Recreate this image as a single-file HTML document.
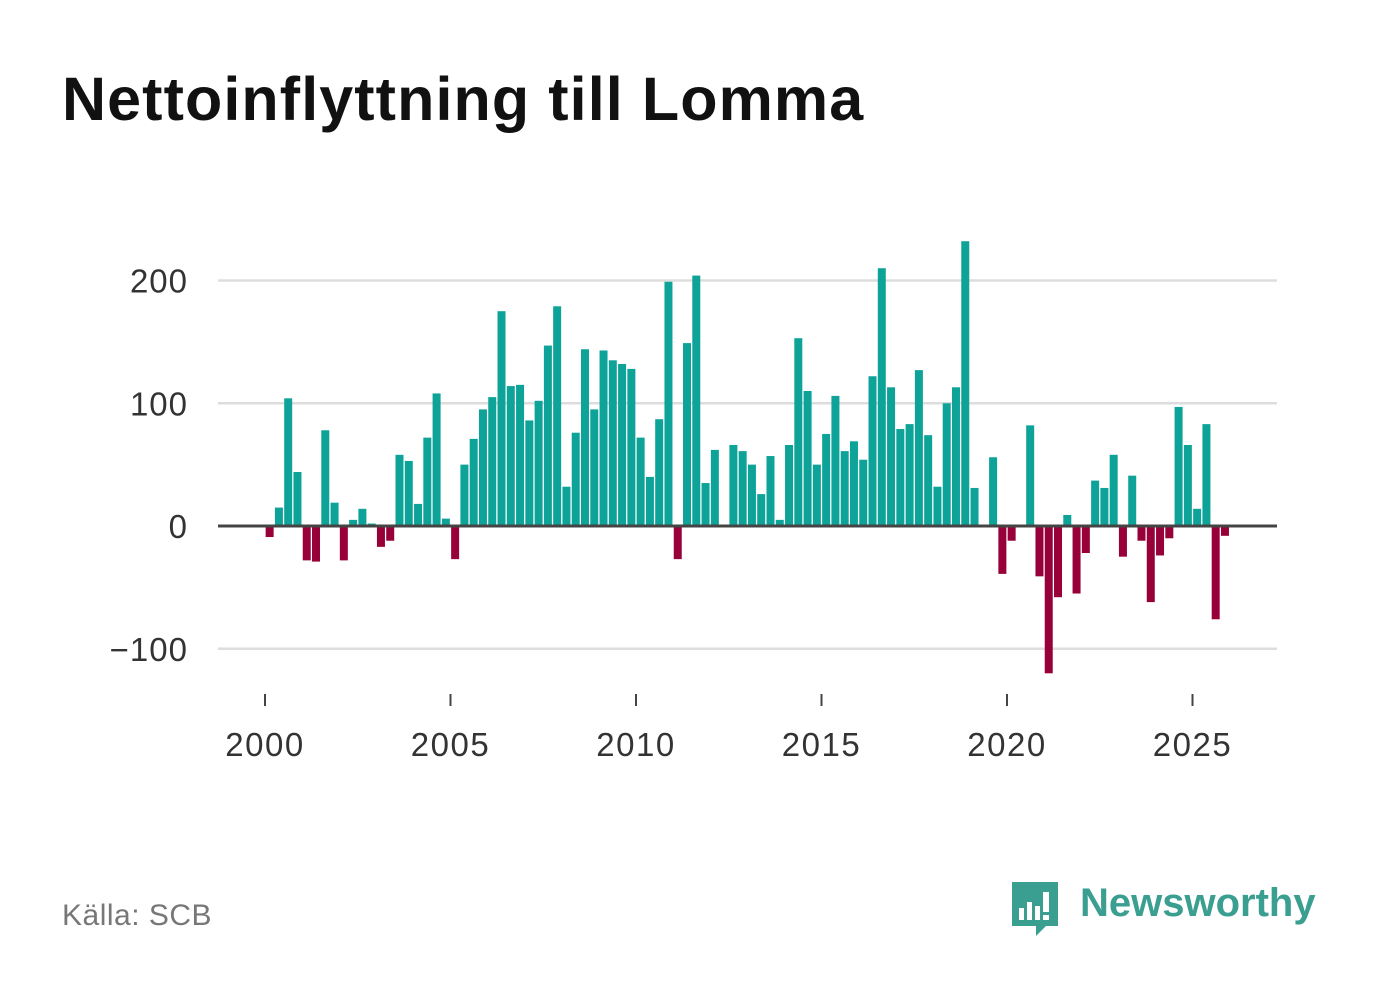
<!DOCTYPE html>
<html><head><meta charset="utf-8"><style>
body{margin:0;background:#fff;width:1382px;height:999px;overflow:hidden;font-family:"Liberation Sans",sans-serif;}
#title{position:absolute;left:62px;top:64px;font-size:61px;font-weight:bold;color:#111;letter-spacing:1.1px;line-height:70px;}
#src{position:absolute;left:62px;top:899px;font-size:30px;color:#777;letter-spacing:0.5px;}
#logo{position:absolute;left:1010px;top:878px;}
</style></head><body>
<div id="title">Nettoinflyttning till Lomma</div>
<svg id="chart" width="1382" height="999" style="position:absolute;left:0;top:0"></svg>
<div id="src">Källa: SCB</div>
<div id="logo">
<svg width="320" height="64">
<path d="M2 4h46v44h-12l-10 10l0-10h-24z" fill="#3a9e91"/>
<rect x="9" y="30" width="5" height="12" fill="#fff"/><rect x="17" y="24" width="5" height="18" fill="#fff"/><rect x="25" y="28" width="5" height="14" fill="#fff"/><rect x="33" y="14" width="6" height="20" fill="#fff"/><rect x="33" y="37" width="6" height="5" fill="#fff"/>
<text x="70" y="38" font-size="40" font-weight="bold" fill="#3a9e91" font-family="Liberation Sans, sans-serif">Newsworthy</text>
</svg></div>
<script>
const quarters = Array.from({length:104},(_,i)=>(2000+Math.floor(i/4))+'Q'+(i%4+1));
const values = [-9,15,104,44,-28,-29,78,19,-28,5,14,2,-17,-12,58,53,18,72,108,6,-27,50,71,95,105,175,114,115,86,102,147,179,32,76,144,95,143,135,132,128,72,40,87,199,-27,149,204,35,62,0,66,61,50,26,57,5,66,153,110,50,75,106,61,69,54,122,210,113,79,83,127,74,32,100,113,232,31,0,56,-39,-12,0,82,-41,-120,-58,9,-55,-22,37,31,58,-25,41,-12,-62,-24,-10,97,66,14,83,-76,-8];
const yTicks = [-100,0,100,200];
const yTickLabels = ['\u2212100','0','100','200'];
const xTicks = [2000,2005,2010,2015,2020,2025];
const NS='http://www.w3.org/2000/svg';
const svg=document.getElementById('chart');
const x0=218,x1=1277;
function yScale(v){return 526-v*1.2275;}
function xYear(y){return 265+(y-2000)*37.1;}
function xIdx(i){return xYear(2000+i/4)+4.64;}
function mk(t,a){const e=document.createElementNS(NS,t);for(const k in a)e.setAttribute(k,a[k]);svg.appendChild(e);return e;}
yTicks.forEach((v,i)=>{
  if(v!==0){const g=mk('line',{x1:x0,x2:x1,y1:yScale(v),y2:yScale(v),stroke:'#ddd','stroke-width':2.5});
  
  }
  const t=mk('text',{x:188,y:yScale(v)+12,'text-anchor':'end','font-size':33,fill:'#333','letter-spacing':1});
  t.textContent=yTickLabels[i];
  
  
});
values.forEach((v,i)=>{
  const y=yScale(Math.max(v,0)),h=Math.abs(yScale(v)-yScale(0));
  if(h<0.1)return;
  const r=mk('rect',{x:xIdx(i)-4,y:y,width:8,height:h,fill:v>=0?'#0ea399':'#970038'});
  
  
});
const z=mk('line',{x1:x0,x2:x1,y1:yScale(0),y2:yScale(0),stroke:'#444','stroke-width':3});


xTicks.forEach(yr=>{
  const l=mk('line',{x1:xYear(yr),x2:xYear(yr),y1:694,y2:706,stroke:'#444','stroke-width':2});
  
  
  const t=mk('text',{x:xYear(yr),y:756,'text-anchor':'middle','font-size':33,fill:'#333','letter-spacing':1.5});
  t.textContent=yr;
  
  
});
</script>
</body></html>
